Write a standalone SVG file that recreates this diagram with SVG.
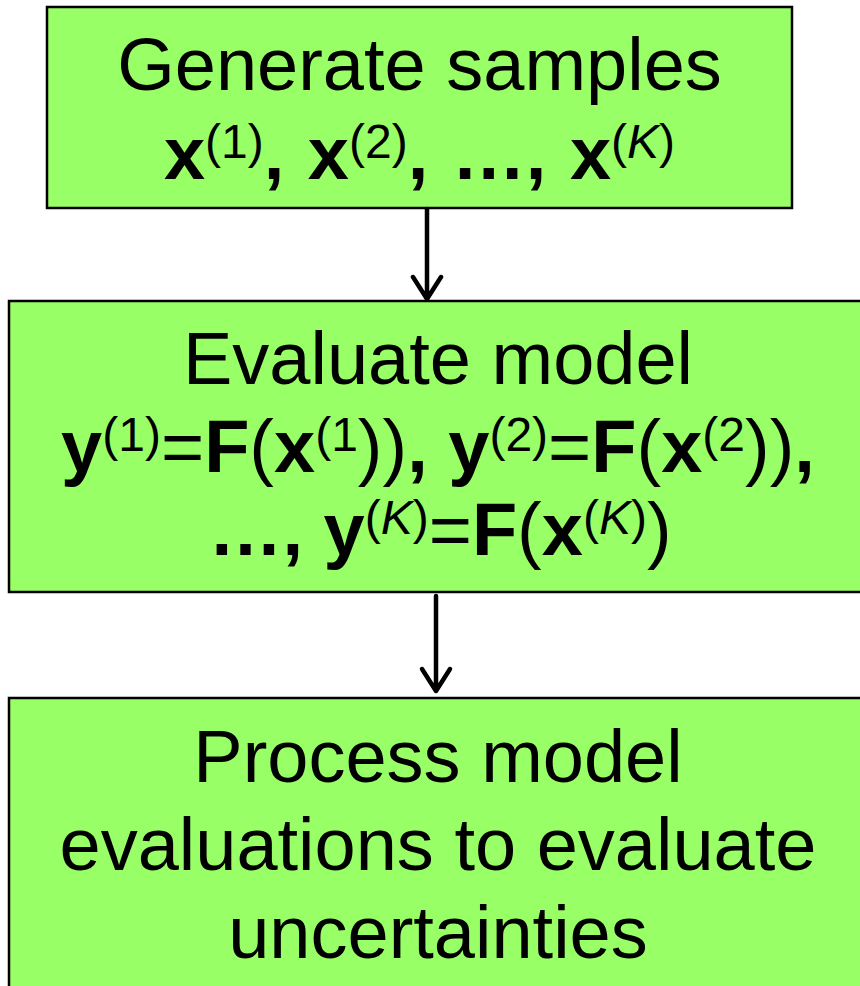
<svg xmlns="http://www.w3.org/2000/svg" width="860" height="986" viewBox="0 0 860 986">
  <style>
    .box { fill: #99ff66; stroke: #000; stroke-width: 2.5; }
    .t { font-family: "Liberation Sans", Arial, sans-serif; font-size: 74px; fill: #000; text-anchor: middle; }
    .b { font-weight: bold; }
    .sup { font-size: 48px; font-weight: normal; }
    .it { font-style: italic; }
    .link { stroke: #000; stroke-width: 4.5; fill: none; stroke-linecap: round; stroke-linejoin: round; }
  </style>
  <rect width="860" height="986" fill="#fff"/>

  <g id="generate">
    <rect class="box" x="47" y="7" width="745" height="201"/>
    <text class="t" x="419.5" y="90">Generate samples</text>
    <text class="t" x="419.5" y="179" word-spacing="3"><tspan class="b">x</tspan><tspan class="sup" dy="-21">(1)</tspan><tspan class="b" dy="21">, x</tspan><tspan class="sup" dy="-21">(2)</tspan><tspan class="b" dy="21">, …, x</tspan><tspan class="sup" dy="-21">(<tspan class="it">K</tspan>)</tspan></text>
  </g>

  <g id="evaluate">
    <rect class="box" x="9" y="301" width="858" height="291"/>
    <text class="t" x="438" y="384">Evaluate model</text>
    <text class="t" x="438" y="472"><tspan class="b">y</tspan><tspan class="sup" dy="-21">(1)</tspan><tspan dy="21">=</tspan><tspan class="b">F</tspan>(<tspan class="b">x</tspan><tspan class="sup" dy="-21">(1</tspan><tspan dy="21">))</tspan><tspan class="b">, y</tspan><tspan class="sup" dy="-21">(2)</tspan><tspan dy="21">=</tspan><tspan class="b">F</tspan>(<tspan class="b">x</tspan><tspan class="sup" dy="-21">(2</tspan><tspan dy="21">))</tspan><tspan class="b">,</tspan></text>
    <text class="t" x="440" y="555"><tspan class="b">…, y</tspan><tspan class="sup" dy="-21">(<tspan class="it">K</tspan>)</tspan><tspan dy="21">=</tspan><tspan class="b">F</tspan>(<tspan class="b">x</tspan><tspan class="sup" dy="-21">(<tspan class="it">K</tspan>)</tspan><tspan dy="21">)</tspan></text>
  </g>

  <g id="process">
    <rect class="box" x="9" y="698" width="858" height="300"/>
    <text class="t" x="438" y="782">Process model</text>
    <text class="t" x="438" y="870">evaluations to evaluate</text>
    <text class="t" x="438" y="958">uncertainties</text>
  </g>

  <g id="connectors">
    <path class="link" d="M427 209 V298 M413 277 L427 299 L441 277"/>
    <path class="link" d="M436 596 V691 M422 669 L436 691 L450 669"/>
  </g>
</svg>
